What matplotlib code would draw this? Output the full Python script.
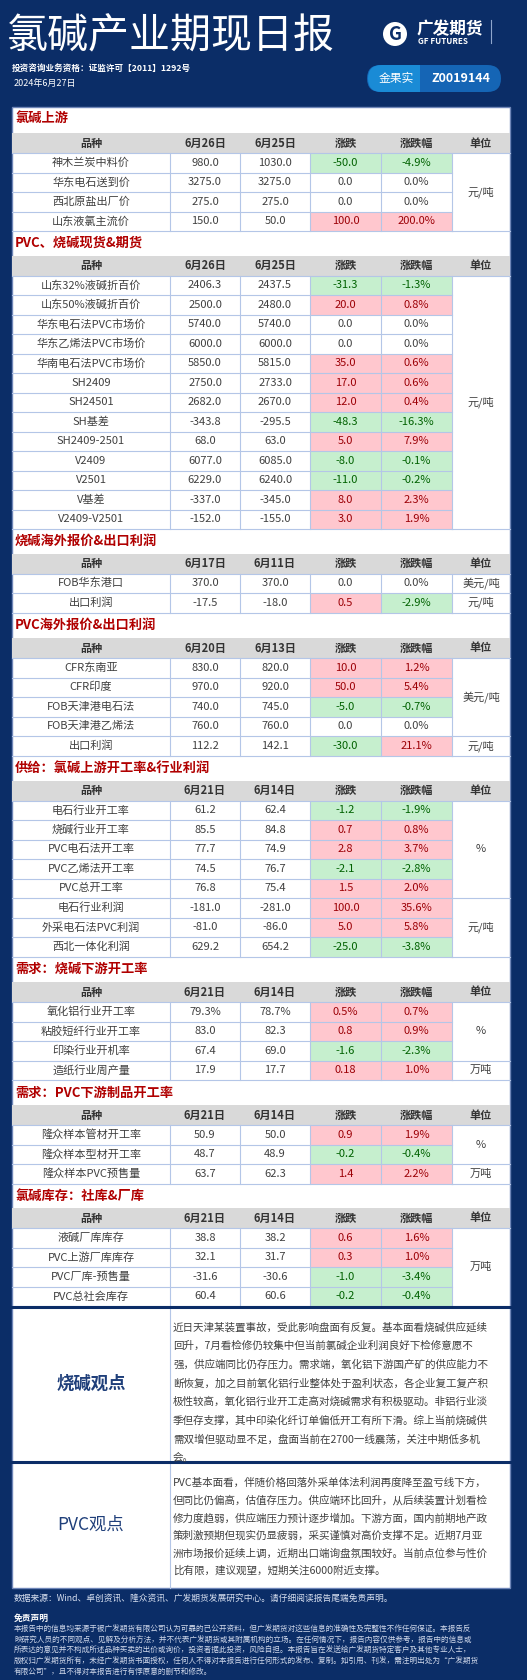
import matplotlib
matplotlib.use("Agg")
import matplotlib.pyplot as plt
from matplotlib.patches import Rectangle, FancyBboxPatch

plt.rcParams['font.family'] = ['Noto Sans CJK SC', 'DejaVu Sans']

W, H = 527, 1680
NAVY = '#0b2d67'
GRID = '#b4c6e7'
HDR = '#d9d9d9'
RED_BG, RED_TX = '#ffc7ce', '#9c0006'
GRN_BG, GRN_TX = '#c6efce', '#006100'
SEC = '#b00000'
TXT = '#404040'

# ---------------- data ----------------
sec1_title = "氯碱上游"
sec1_dates = ["6月26日", "6月25日"]
sec1_names = ["神木兰炭中料价", "华东电石送到价", "西北原盐出厂价", "山东液氯主流价"]
sec1_cur = ["980.0", "3275.0", "275.0", "150.0"]
sec1_prev = ["1030.0", "3275.0", "275.0", "50.0"]
sec1_chg = ["-50.0", "0.0", "0.0", "100.0"]
sec1_pct = ["-4.9%", "0.0%", "0.0%", "200.0%"]
sec1_units = [("元/吨", 4)]

sec2_title = "PVC、烧碱现货&期货"
sec2_dates = ["6月26日", "6月25日"]
sec2_names = ["山东32%液碱折百价", "山东50%液碱折百价", "华东电石法PVC市场价", "华东乙烯法PVC市场价",
              "华南电石法PVC市场价", "SH2409", "SH24501", "SH基差", "SH2409-2501", "V2409", "V2501",
              "V基差", "V2409-V2501"]
sec2_cur = ["2406.3", "2500.0", "5740.0", "6000.0", "5850.0", "2750.0", "2682.0", "-343.8", "68.0",
            "6077.0", "6229.0", "-337.0", "-152.0"]
sec2_prev = ["2437.5", "2480.0", "5740.0", "6000.0", "5815.0", "2733.0", "2670.0", "-295.5", "63.0",
             "6085.0", "6240.0", "-345.0", "-155.0"]
sec2_chg = ["-31.3", "20.0", "0.0", "0.0", "35.0", "17.0", "12.0", "-48.3", "5.0", "-8.0", "-11.0",
            "8.0", "3.0"]
sec2_pct = ["-1.3%", "0.8%", "0.0%", "0.0%", "0.6%", "0.6%", "0.4%", "-16.3%", "7.9%", "-0.1%",
            "-0.2%", "2.3%", "1.9%"]
sec2_units = [("元/吨", 13)]

sec3_title = "烧碱海外报价&出口利润"
sec3_dates = ["6月17日", "6月11日"]
sec3_names = ["FOB华东港口", "出口利润"]
sec3_cur = ["370.0", "-17.5"]
sec3_prev = ["370.0", "-18.0"]
sec3_chg = ["0.0", "0.5"]
sec3_pct = ["0.0%", "-2.9%"]
sec3_units = [("美元/吨", 1), ("元/吨", 1)]

sec4_title = "PVC海外报价&出口利润"
sec4_dates = ["6月20日", "6月13日"]
sec4_names = ["CFR东南亚", "CFR印度", "FOB天津港电石法", "FOB天津港乙烯法", "出口利润"]
sec4_cur = ["830.0", "970.0", "740.0", "760.0", "112.2"]
sec4_prev = ["820.0", "920.0", "745.0", "760.0", "142.1"]
sec4_chg = ["10.0", "50.0", "-5.0", "0.0", "-30.0"]
sec4_pct = ["1.2%", "5.4%", "-0.7%", "0.0%", "21.1%"]
sec4_units = [("美元/吨", 4), ("元/吨", 1)]

sec5_title = "供给：氯碱上游开工率&行业利润"
sec5_dates = ["6月21日", "6月14日"]
sec5_names = ["电石行业开工率", "烧碱行业开工率", "PVC电石法开工率", "PVC乙烯法开工率", "PVC总开工率",
              "电石行业利润", "外采电石法PVC利润", "西北一体化利润"]
sec5_cur = ["61.2", "85.5", "77.7", "74.5", "76.8", "-181.0", "-81.0", "629.2"]
sec5_prev = ["62.4", "84.8", "74.9", "76.7", "75.4", "-281.0", "-86.0", "654.2"]
sec5_chg = ["-1.2", "0.7", "2.8", "-2.1", "1.5", "100.0", "5.0", "-25.0"]
sec5_pct = ["-1.9%", "0.8%", "3.7%", "-2.8%", "2.0%", "35.6%", "5.8%", "-3.8%"]
sec5_units = [("%", 5), ("元/吨", 3)]

sec6_title = "需求：烧碱下游开工率"
sec6_dates = ["6月21日", "6月14日"]
sec6_names = ["氧化铝行业开工率", "粘胶短纤行业开工率", "印染行业开机率", "造纸行业周产量"]
sec6_cur = ["79.3%", "83.0", "67.4", "17.9"]
sec6_prev = ["78.7%", "82.3", "69.0", "17.7"]
sec6_chg = ["0.5%", "0.8", "-1.6", "0.18"]
sec6_pct = ["0.7%", "0.9%", "-2.3%", "1.0%"]
sec6_units = [("%", 3), ("万吨", 1)]

sec7_title = "需求：PVC下游制品开工率"
sec7_dates = ["6月21日", "6月14日"]
sec7_names = ["隆众样本管材开工率", "隆众样本型材开工率", "隆众样本PVC预售量"]
sec7_cur = ["50.9", "48.7", "63.7"]
sec7_prev = ["50.0", "48.9", "62.3"]
sec7_chg = ["0.9", "-0.2", "1.4"]
sec7_pct = ["1.9%", "-0.4%", "2.2%"]
sec7_units = [("%", 2), ("万吨", 1)]

sec8_title = "氯碱库存：社库&厂库"
sec8_dates = ["6月21日", "6月14日"]
sec8_names = ["液碱厂库库存", "PVC上游厂库库存", "PVC厂库-预售量", "PVC总社会库存"]
sec8_cur = ["38.8", "32.1", "-31.6", "60.4"]
sec8_prev = ["38.2", "31.7", "-30.6", "60.6"]
sec8_chg = ["0.6", "0.3", "-1.0", "-0.2"]
sec8_pct = ["1.6%", "1.0%", "-3.4%", "-0.4%"]
sec8_units = [("万吨", 4)]

view1_label = "烧碱观点"
view1_lines = [
    "近日天津某装置事故，受此影响盘面有反复。基本面看烧碱供应延续",
    "回升，7月看检修仍较集中但当前氯碱企业利润良好下检修意愿不",
    "强，供应端同比仍存压力。需求端，氧化铝下游国产矿的供应能力不",
    "断恢复，加之目前氧化铝行业整体处于盈利状态，各企业复工复产积",
    "极性较高，氧化铝行业开工走高对烧碱需求有积极驱动。非铝行业淡",
    "季但存支撑，其中印染化纤订单偏低开工有所下滑。综上当前烧碱供",
    "需双增但驱动显不足，盘面当前在2700一线震荡，关注中期低多机",
    "会。",
]
view2_label = "PVC观点"
view2_lines = [
    "PVC基本面看，伴随价格回落外采单体法利润再度降至盈亏线下方，",
    "但同比仍偏高，估值存压力。供应端环比回升，从后续装置计划看检",
    "修力度趋弱，供应端压力预计逐步增加。下游方面，国内前期地产政",
    "策刺激预期但现实仍显疲弱，采买谨慎对高价支撑不足。近期7月亚",
    "洲市场报价延续上调，近期出口端询盘氛围较好。当前点位参与性价",
    "比有限，建议观望，短期关注6000附近支撑。",
]
source_text = "数据来源：Wind、卓创资讯、隆众资讯、广发期货发展研究中心。请仔细阅读报告尾端免责声明。"
disclaimer_lines = [
    "本报告中的信息均来源于被广发期货有限公司认为可靠的已公开资料，但广发期货对这些信息的准确性及完整性不作任何保证。本报告反",
    "映研究人员的不同观点、见解及分析方法，并不代表广发期货或其附属机构的立场。在任何情况下，报告内容仅供参考，报告中的信息或",
    "所表达的意见并不构成所述品种买卖的出价或询价，投资者据此投资，风险自担。本报告旨在发送给广发期货特定客户及其他专业人士，",
    "版权归广发期货所有，未经广发期货书面授权，任何人不得对本报告进行任何形式的发布、复制。如引用、刊发，需注明出处为“广发期货",
    "有限公司”，且不得对本报告进行有悖原意的删节和修改。",
]

sections = [
    (sec1_title, sec1_dates, sec1_names, sec1_cur, sec1_prev, sec1_chg, sec1_pct, sec1_units, 118, 133),
    (sec2_title, sec2_dates, sec2_names, sec2_cur, sec2_prev, sec2_chg, sec2_pct, sec2_units, 243, 255.5),
    (sec3_title, sec3_dates, sec3_names, sec3_cur, sec3_prev, sec3_chg, sec3_pct, sec3_units, 541, 553.5),
    (sec4_title, sec4_dates, sec4_names, sec4_cur, sec4_prev, sec4_chg, sec4_pct, sec4_units, 625, 638),
    (sec5_title, sec5_dates, sec5_names, sec5_cur, sec5_prev, sec5_chg, sec5_pct, sec5_units, 768, 780.5),
    (sec6_title, sec6_dates, sec6_names, sec6_cur, sec6_prev, sec6_chg, sec6_pct, sec6_units, 969, 982),
    (sec7_title, sec7_dates, sec7_names, sec7_cur, sec7_prev, sec7_chg, sec7_pct, sec7_units, 1093, 1105),
    (sec8_title, sec8_dates, sec8_names, sec8_cur, sec8_prev, sec8_chg, sec8_pct, sec8_units, 1196, 1208),
]

# ---------------- drawing ----------------
fig = plt.figure(figsize=(W / 100, H / 100), dpi=100)
ax = fig.add_axes([0, 0, 1, 1])
ax.set_xlim(0, W)
ax.set_ylim(H, 0)
ax.axis('off')
fig.patch.set_facecolor(NAVY)

def rect(x0, y0, x1, y1, fc, ec='none', lw=0, z=1):
    ax.add_patch(Rectangle((x0, y0), x1 - x0, y1 - y0, facecolor=fc, edgecolor=ec, linewidth=lw, zorder=z))

def txt(x, y, s, size=8, color=TXT, ha='center', weight='normal', z=5, **kw):
    ax.text(x, y, s, fontsize=size, color=color, ha=ha, va='center', fontweight=weight, zorder=z, **kw)

# header
rect(0, 0, W, H, NAVY, z=0)
txt(7, 37, "氯碱产业期现日报", size=29.5, color='white', ha='left')
txt(12, 68, "投资咨询业务资格：证监许可【2011】1292号", size=6.2, color='white', ha='left', weight='bold')
txt(14, 83, "2024年6月27日", size=6.5, color='white', ha='left')
# logo
ax.add_patch(plt.Circle((395, 34), 12, facecolor='white', edgecolor='none', zorder=3))
txt(395, 34, "G", size=13, color=NAVY, weight='bold', style='italic', z=4)
txt(417, 29, "广发期货", size=12, color='white', ha='left', weight='bold')
txt(418, 41, "GF FUTURES", size=5.8, color='white', ha='left', weight='bold')
ax.plot([491, 491], [20, 43], color='#8fa6cc', lw=0.8, zorder=3)
# badge
ax.add_patch(FancyBboxPatch((367, 65), 134, 27, boxstyle="round,pad=0,rounding_size=13.5",
                            facecolor='#1565b5', edgecolor='none', zorder=3))
ax.add_patch(FancyBboxPatch((368, 65), 52, 27, boxstyle="round,pad=0,rounding_size=13.5",
                            facecolor='#1a8bd6', edgecolor='none', zorder=3))
rect(405, 65, 420, 92, '#1a8bd6', z=3)
txt(396, 78.5, "金果实", size=8.5, color='white', z=5)
txt(461, 79, "Z0019144", size=9, color='white', weight='bold', z=5)

# white panel
rect(12, 107, 510, 1588, 'white', ec='#6f86b8', lw=1, z=1)

cols = [12, 170, 240, 310, 381, 452, 510]
RH = 19.5
HH = 20

def sign_colors(s):
    v = float(s.replace('%', ''))
    if v > 0:
        return RED_BG, RED_TX
    if v < 0:
        return GRN_BG, GRN_TX
    return None, TXT

for (title, dates, names, cur, prev, chg, pct, units, ty, hy) in sections:
    txt(15, ty, title, size=9.5, color=SEC, ha='left', weight='bold')
    rect(cols[0], hy, cols[-1], hy + HH, HDR, z=2)
    heads = ["品种", dates[0], dates[1], "涨跌", "涨跌幅", "单位"]
    for i, h in enumerate(heads):
        txt((cols[i] + cols[i + 1]) / 2, hy + HH / 2, h, size=8, color='#333333', weight='bold')
    y0 = hy + HH
    n = len(names)
    for r in range(n):
        ya, yb = y0 + r * RH, y0 + (r + 1) * RH
        vals = [names[r], cur[r], prev[r], chg[r], pct[r]]
        for c, v in enumerate(vals):
            color = TXT
            if c >= 3:
                bg, color = sign_colors(v)
                if bg:
                    rect(cols[c], ya, cols[c + 1], yb, bg, z=2)
            txt((cols[c] + cols[c + 1]) / 2, (ya + yb) / 2, v, size=8, color=color)
        ax.plot([cols[0], cols[5]], [yb, yb], color=GRID, lw=0.8, zorder=3)
    r0 = 0
    for u, span in units:
        ya, yb = y0 + r0 * RH, y0 + (r0 + span) * RH
        txt((cols[5] + cols[6]) / 2, (ya + yb) / 2, u, size=8, color=TXT)
        ax.plot([cols[5], cols[6]], [yb, yb], color=GRID, lw=0.8, zorder=3)
        r0 += span
    yend = y0 + n * RH
    for x in cols[1:-1]:
        ax.plot([x, x], [y0, yend], color=GRID, lw=0.8, zorder=3)
    ax.plot([cols[0], cols[-1]], [y0, y0], color=GRID, lw=0.8, zorder=3)

# viewpoint boxes
ax.plot([12, 510], [1306.5, 1306.5], color=NAVY, lw=2.2, zorder=4)
ax.plot([12, 510], [1461.5, 1461.5], color=NAVY, lw=2.2, zorder=4)
ax.plot([170, 170], [1307, 1588], color=GRID, lw=0.8, zorder=3)
txt(91, 1384, view1_label, size=12.5, color='#1f3f7a', weight='bold')
for i, line in enumerate(view1_lines):
    txt(173, 1327.5 + i * 18.6, line, size=7.6, color=TXT, ha='left')
txt(91, 1525, view2_label, size=12.5, color='#1f3f7a')
for i, line in enumerate(view2_lines):
    txt(173, 1483 + i * 17.5, line, size=7.6, color=TXT, ha='left')

# footer
txt(14, 1598, source_text, size=6.3, color='#d8e0f0', ha='left')
txt(14, 1618, "免责声明", size=6.3, color='white', ha='left', weight='bold')
for i, line in enumerate(disclaimer_lines):
    txt(14, 1630 + i * 10.6, line, size=5.5, color='#d0d8ea', ha='left')

fig.savefig("out.png", dpi=100, facecolor=NAVY)
